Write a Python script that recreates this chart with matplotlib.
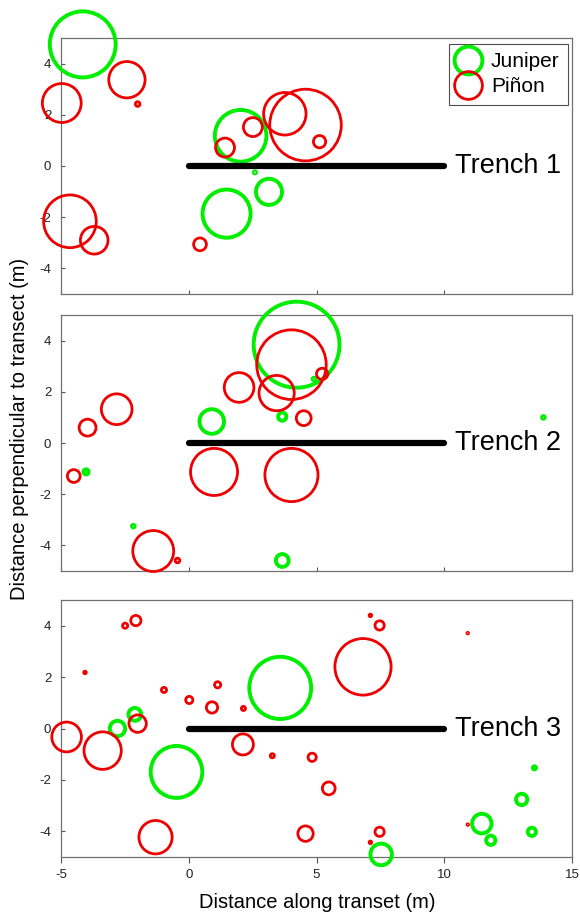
import matplotlib
matplotlib.use("Agg")
import matplotlib.pyplot as plt
from matplotlib.patches import Circle
from matplotlib.lines import Line2D

plt.rcParams['font.family'] = ['Liberation Sans', 'DejaVu Sans']

GREEN = '#00ee00'
RED = '#ee0000'

# tree positions (m) and crown radius (m), per trench
t1_jun_x = [-4.15, 2.03, 2.59, 3.14, 1.48]
t1_jun_y = [4.75, 1.18, -0.25, -1.01, -1.86]
t1_jun_r = [1.29, 1.01, 0.04, 0.51, 0.94]
t1_pin_x = [-2.42, -2.0, -4.97, 1.42, 2.51, 4.57, 3.76, 5.12, 0.44, -4.65, -3.7]
t1_pin_y = [3.37, 2.42, 2.46, 0.72, 1.52, 1.6, 2.04, 0.95, -3.06, -2.16, -2.9]
t1_pin_r = [0.71, 0.09, 0.76, 0.37, 0.37, 1.40, 0.83, 0.24, 0.25, 1.03, 0.54]

t2_jun_x = [4.22, 4.9, 3.66, 0.9, -4.02, -2.17, 3.66, 13.88]
t2_jun_y = [3.84, 2.5, 1.03, 0.84, -1.13, -3.25, -4.59, 1.0]
t2_jun_r = [1.68, 0.05, 0.16, 0.48, 0.1, 0.05, 0.25, 0.05]
t2_pin_x = [4.02, 1.97, 3.44, 5.22, 4.5, -2.82, -3.96, -4.5, 0.99, 4.02, -1.39, -0.44]
t2_pin_y = [3.06, 2.17, 1.95, 2.7, 0.97, 1.32, 0.6, -1.29, -1.13, -1.25, -4.22, -4.59]
t2_pin_r = [1.36, 0.58, 0.69, 0.22, 0.29, 0.6, 0.33, 0.25, 0.92, 1.04, 0.8, 0.09]

t3_jun_x = [3.58, -2.79, -2.11, -0.48, 7.53, 11.47, 11.82, 13.03, 13.43, 13.53]
t3_jun_y = [1.58, 0.0, 0.55, -1.69, -4.9, -3.7, -4.35, -2.76, -4.02, -1.53]
t3_jun_r = [1.21, 0.3, 0.25, 1.01, 0.42, 0.38, 0.18, 0.22, 0.16, 0.06]
t3_pin_x = [-2.49, -2.07, -4.06, -0.97, 0.02, 1.13, 0.91, 2.14, -2.0, -4.78, -3.37, 2.12,
            3.27, -1.3, 6.82, 7.11, 7.47, 10.92, 4.83, 5.48, 4.57, 7.47, 7.11, 10.92]
t3_pin_y = [4.0, 4.2, 2.18, 1.5, 1.11, 1.7, 0.82, 0.78, 0.19, -0.33, -0.86, -0.62,
            -1.06, -4.23, 2.4, 4.4, 4.01, 3.71, -1.12, -2.33, -4.09, -4.02, -4.43, -3.74]
t3_pin_r = [0.1, 0.2, 0.05, 0.1, 0.14, 0.12, 0.22, 0.08, 0.34, 0.58, 0.73, 0.41,
            0.08, 0.65, 1.1, 0.05, 0.18, 0.03, 0.16, 0.25, 0.3, 0.18, 0.05, 0.03]

trench_names = ['Trench 1', 'Trench 2', 'Trench 3']
trench_x = [0, 10]
trench_y = [0, 0]

panels = [
    (t1_jun_x, t1_jun_y, t1_jun_r, t1_pin_x, t1_pin_y, t1_pin_r),
    (t2_jun_x, t2_jun_y, t2_jun_r, t2_pin_x, t2_pin_y, t2_pin_r),
    (t3_jun_x, t3_jun_y, t3_jun_r, t3_pin_x, t3_pin_y, t3_pin_r),
]

W, H = 580, 915
fig = plt.figure(figsize=(5.8, 9.15), dpi=100)

# axes boxes in pixels: left, top, right, bottom
boxes = [(61, 38, 572, 294), (61, 315, 572, 571), (61, 600, 572, 857)]

for i, (jx, jy, jr, px, py, pr) in enumerate(panels):
    l, t, r, b = boxes[i]
    ax = fig.add_axes([l / W, (H - b) / H, (r - l) / W, (b - t) / H])
    ax.set_xlim(-5, 15)
    ax.set_ylim(-5, 5)
    for s in ax.spines.values():
        s.set_color('#707070')
        s.set_linewidth(0.9)

    for x, y, rad in zip(jx, jy, jr):
        ax.add_patch(Circle((x, y), rad, fill=False, ec=GREEN, lw=2.8, clip_on=False, zorder=3))
    for x, y, rad in zip(px, py, pr):
        ax.add_patch(Circle((x, y), rad, fill=False, ec=RED, lw=2.0, clip_on=False, zorder=4))

    ax.plot(trench_x, trench_y, color='black', lw=4.5, solid_capstyle='round', zorder=5)
    ax.annotate(trench_names[i], xy=(trench_x[1], 0), xytext=(8, 0),
                textcoords='offset points', va='center', ha='left', fontsize=19.5)

    ax.set_yticks([-4, -2, 0, 2, 4])
    ax.set_yticklabels(['-4', '-2', '0', '2', '4'])
    ax.set_xticks([-5, 0, 5, 10, 15])
    ax.tick_params(axis='y', direction='in', length=3, width=0.8, color='#555555',
                   labelsize=9.5, labelcolor='#222222', pad=7)
    if i < 2:
        ax.tick_params(axis='x', direction='in', length=3, width=0.8, color='#555555',
                       labelbottom=False)
    else:
        ax.set_xticklabels(['-5', '0', '5', '10', '15'])
        ax.tick_params(axis='x', direction='out', length=4, width=0.8, color='#555555',
                       labelsize=9.5, labelcolor='#222222', pad=5)

    if i == 0:
        handles = [
            Line2D([], [], ls='none', marker='o', ms=20, mfc='none', mec=GREEN, mew=2.8),
            Line2D([], [], ls='none', marker='o', ms=20, mfc='none', mec=RED, mew=2.0),
        ]
        leg = ax.legend(handles, ['Juniper', 'Piñon'], loc='upper right',
                        bbox_to_anchor=(0.992, 0.977), borderaxespad=0, fontsize=15,
                        frameon=True, fancybox=False, edgecolor='#222222',
                        handlelength=1.0, handletextpad=0.6, borderpad=0.4,
                        labelspacing=0.3)
        leg.get_frame().set_linewidth(0.8)
        leg.set_zorder(6)

fig.text(20 / W, (H - 429) / H, 'Distance perpendicular to transect (m)', rotation=90,
         ha='center', va='center', fontsize=14.5)
fig.text(317 / W, (H - 903) / H, 'Distance along transet (m)', ha='center', va='center',
         fontsize=14.5)

fig.savefig('out.png', dpi=100)
